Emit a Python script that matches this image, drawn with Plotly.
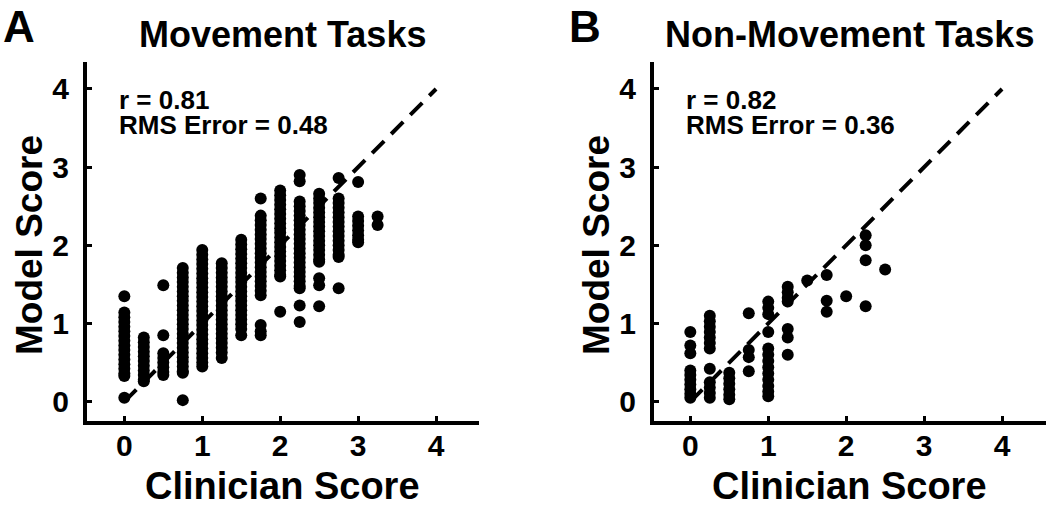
import plotly.graph_objects as go

# ---------------- data ----------------
ticks = [0, 1, 2, 3, 4]
tick_labels = ["0", "1", "2", "3", "4"]

# Movement tasks: clinician score levels and model scores at each level
mov_levels = [0.0, 0.25, 0.5, 0.75, 1.0, 1.25, 1.5, 1.75, 2.0, 2.25, 2.5, 2.75, 3.0, 3.25]
mov_model_by_level = [
    [1.35, 1.14, 1.08, 1.02, 0.96, 0.90, 0.84, 0.78, 0.72, 0.66, 0.60, 0.54, 0.48, 0.42, 0.36, 0.33, 0.05],
    [0.82, 0.76, 0.70, 0.64, 0.58, 0.52, 0.46, 0.40, 0.34, 0.28, 0.26],
    [1.49, 0.85, 0.62, 0.56, 0.50, 0.44, 0.38, 0.34],
    [1.71, 1.65, 1.59, 1.53, 1.47, 1.41, 1.35, 1.29, 1.23, 1.17, 1.11, 1.05, 0.99, 0.93, 0.87,
     0.81, 0.75, 0.69, 0.63, 0.57, 0.51, 0.45, 0.39, 0.37, 0.02],
    [1.94, 1.88, 1.82, 1.76, 1.70, 1.64, 1.58, 1.52, 1.46, 1.40, 1.34, 1.28, 1.22, 1.16, 1.10,
     1.04, 0.98, 0.92, 0.86, 0.80, 0.74, 0.68, 0.62, 0.56, 0.50, 0.45],
    [1.77, 1.71, 1.65, 1.59, 1.53, 1.47, 1.41, 1.35, 1.29, 1.23, 1.17, 1.11, 1.05, 0.99, 0.93,
     0.87, 0.81, 0.75, 0.69, 0.63, 0.56],
    [2.07, 2.01, 1.95, 1.89, 1.83, 1.77, 1.71, 1.65, 1.59, 1.53, 1.47, 1.41, 1.35, 1.29, 1.23,
     1.17, 1.11, 1.05, 0.99, 0.93, 0.85],
    [2.60, 2.38, 2.32, 2.26, 2.20, 2.14, 2.08, 2.02, 1.96, 1.90, 1.84, 1.78, 1.72, 1.66, 1.60,
     1.54, 1.48, 1.42, 1.36, 0.98, 0.90, 0.85],
    [2.70, 2.64, 2.58, 2.52, 2.46, 2.40, 2.34, 2.28, 2.22, 2.16, 2.10, 2.04, 1.98, 1.92, 1.86,
     1.80, 1.74, 1.68, 1.62, 1.60, 1.15],
    [2.90, 2.82, 2.56, 2.50, 2.44, 2.38, 2.32, 2.26, 2.20, 2.14, 2.08, 2.02, 1.96, 1.90, 1.84,
     1.78, 1.72, 1.66, 1.60, 1.54, 1.48, 1.45, 1.23, 1.02],
    [2.66, 2.60, 2.54, 2.48, 2.42, 2.36, 2.30, 2.24, 2.18, 2.12, 2.06, 2.00, 1.94, 1.88, 1.82,
     1.79, 1.58, 1.49, 1.22],
    [2.86, 2.60, 2.54, 2.48, 2.42, 2.36, 2.30, 2.24, 2.18, 2.12, 2.06, 2.00, 1.94, 1.88, 1.85, 1.45],
    [2.81, 2.37, 2.31, 2.25, 2.19, 2.13, 2.07, 2.04],
    [2.37, 2.26],
]

# Non-movement tasks
non_levels = [0.0, 0.25, 0.5, 0.75, 1.0, 1.25, 1.5, 1.75, 2.0, 2.25, 2.5]
non_model_by_level = [
    [0.89, 0.72, 0.62, 0.40, 0.34, 0.28, 0.22, 0.16, 0.10, 0.05],
    [1.10, 1.03, 0.96, 0.89, 0.82, 0.75, 0.68, 0.42, 0.25, 0.18, 0.11, 0.05],
    [0.37, 0.30, 0.23, 0.16, 0.09, 0.03],
    [1.13, 0.66, 0.57, 0.39],
    [1.28, 1.20, 1.12, 0.89, 0.68, 0.60, 0.52, 0.44, 0.36, 0.28, 0.20, 0.13, 0.07],
    [1.47, 1.40, 1.33, 1.28, 0.93, 0.82, 0.60],
    [1.55],
    [1.62, 1.29, 1.15],
    [1.35],
    [2.13, 2.00, 1.81, 1.22],
    [1.69],
]

identity_x = [0, 4]
identity_y = [0, 4]

stats_mov = ["r = 0.81", "RMS Error = 0.48"]
stats_non = ["r = 0.82", "RMS Error = 0.36"]


def flatten(levels, by_level):
    xs, ys = [], []
    for lv, vals in zip(levels, by_level):
        for v in vals:
            xs.append(lv)
            ys.append(v)
    return xs, ys


mov_x, mov_y = flatten(mov_levels, mov_model_by_level)
non_x, non_y = flatten(non_levels, non_model_by_level)

# ---------------- figure ----------------
W, H = 1050, 508
FONT = "Liberation Sans, Arial, Helvetica, sans-serif"

fig = go.Figure()

for xs, ys, xa, ya in [(mov_x, mov_y, "x", "y"), (non_x, non_y, "x2", "y2")]:
    fig.add_trace(go.Scatter(
        x=identity_x, y=identity_y, mode="lines", xaxis=xa, yaxis=ya,
        line=dict(color="black", width=4, dash="17px,10px"),
        hoverinfo="skip", showlegend=False,
    ))
    fig.add_trace(go.Scatter(
        x=xs, y=ys, mode="markers", xaxis=xa, yaxis=ya,
        marker=dict(color="black", size=12, line=dict(width=0)),
        showlegend=False,
    ))


def px_x(p):
    return p / W


def px_y(p):
    return 1 - p / H


axis_common = dict(
    showgrid=False, zeroline=False, showline=True, linecolor="black", linewidth=4,
    ticks="inside", ticklen=5, tickwidth=3, tickcolor="black",
    tickvals=ticks, ticktext=tick_labels,
    tickfont=dict(family=FONT, size=30, color="black", weight="bold"),
    fixedrange=True,
)

ydom = [px_y(421), px_y(62)]
fig.update_layout(
    xaxis=dict(domain=[px_x(87), px_x(479)], range=[-0.479, 4.551], anchor="y",
               ticklabelstandoff=-5, **axis_common),
    yaxis=dict(domain=ydom, range=[-0.247, 4.345], anchor="x", ticklabelstandoff=8, **axis_common),
    xaxis2=dict(domain=[px_x(654), px_x(1046)], range=[-0.466, 4.564], anchor="y2",
                ticklabelstandoff=-5, **axis_common),
    yaxis2=dict(domain=ydom, range=[-0.247, 4.345], anchor="x2", ticklabelstandoff=8, **axis_common),
    width=W, height=H,
    margin=dict(l=0, r=0, t=0, b=0),
    paper_bgcolor="white", plot_bgcolor="white",
    showlegend=False,
)


def ann(text, x, y, size, xanchor="center", angle=0, yanchor="middle"):
    fig.add_annotation(
        text="<b>" + text + "</b>", x=px_x(x), y=px_y(y), xref="paper", yref="paper",
        xanchor=xanchor, yanchor=yanchor, showarrow=False, textangle=angle,
        font=dict(family=FONT, size=size, color="black"),
    )


# panel letters and titles
ann("A", 19, 0, 44, yanchor="top")
ann("B", 585, 0, 44, yanchor="top")
ann("Movement Tasks", 282, 35, 36)
ann("Non-Movement Tasks", 849, 35, 36)

# statistics
ann(stats_mov[0], 117, 100, 26, xanchor="left")
ann(stats_mov[1], 117, 125, 26, xanchor="left")
ann(stats_non[0], 684, 100, 26, xanchor="left")
ann(stats_non[1], 684, 125, 26, xanchor="left")

# axis titles
ann("Model Score", 29, 245, 37, angle=-90)
ann("Model Score", 596, 245, 37, angle=-90)
ann("Clinician Score", 282, 486, 38)
ann("Clinician Score", 849, 486, 38)

fig.write_html(
    "out.html",
    config={"displayModeBar": False},
    post_script="document.body.style.margin='0';document.body.style.padding='0';",
)
